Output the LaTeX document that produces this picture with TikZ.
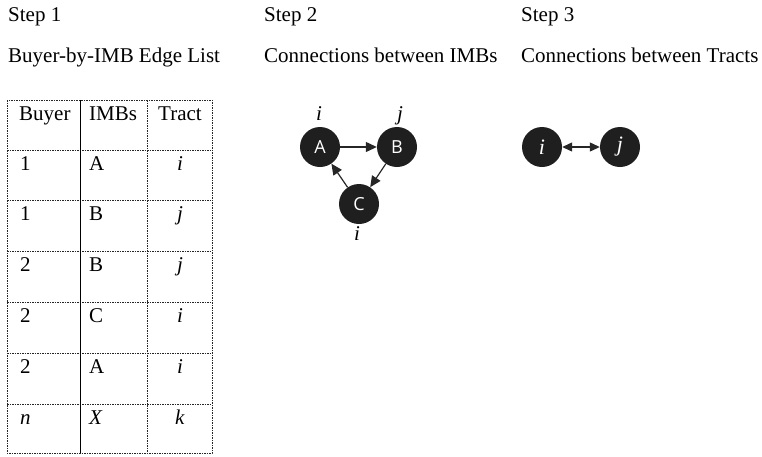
\documentclass[tikz,border=0pt]{standalone}
\usepackage{fontspec}
\setmainfont{Liberation Serif}
\newfontfamily\nodefont{Open Sans}
\usetikzlibrary{arrows.meta}
\tikzset{
  txt/.style={font=\fontsize{21}{25}\selectfont, inner sep=0pt, anchor=base west},
  ctxt/.style={font=\fontsize{21}{25}\selectfont, inner sep=0pt, anchor=base},
  grid/.style={line width=1pt, black!85, dash pattern=on 1.5pt off 1pt},
  solidline/.style={line width=1pt, black},
  imb/.style={circle, fill=black!88, minimum size=40pt, inner sep=0pt, text=white,
              font=\nodefont\fontsize{18}{20}\selectfont},
  tractnode/.style={circle, fill=black!88, minimum size=40pt, inner sep=0pt, text=white,
              font=\fontsize{22}{24}\selectfont\itshape},
  arr/.style={-{Triangle[length=11pt,width=10pt]}, line width=1.2pt, black!85},
  darr/.style={{Triangle[length=10pt,width=9pt]}-{Triangle[length=10pt,width=9pt]}, line width=1.2pt, black!85}
}
\begin{document}
\begin{tikzpicture}[x=1pt,y=-1pt]
\useasboundingbox (0,0) rectangle (762,456);
% headings
\node[txt] (s1) at (8,21) {Step 1};
\node[txt] (s2) at (264,21) {Step 2};
\node[txt] (s3) at (521,21) {Step 3};
\node[txt] (h1) at (8,62) {Buyer-by-IMB Edge List};
\node[txt] (h2) at (264,62) {Connections between IMBs};
\node[txt] (h3) at (521,62) {Connections between Tracts};
% table grid
\draw[grid] (7,100) rectangle (212,453);
\foreach \yy in {150,200,251,302,353,404} \draw[grid] (7,\yy) -- (212,\yy);
\draw[grid] (147,100) -- (147,453);
\draw[solidline] (80,100) -- (80,453);
% table text
\node[txt] (tb) at (19,120) {Buyer};
\node[txt] (ti) at (89,120) {IMBs};
\node[ctxt] (tt) at (180,120) {Tract};
\node[txt] (r1a) at (20,170) {1};
\node[txt] (r1b) at (89,170) {A};
\node[ctxt] (r1c) at (180,170) {\textit{i}};
\node[txt] (r2a) at (20,220) {1};
\node[txt] (r2b) at (89,220) {B};
\node[ctxt] (r2c) at (180,220) {\textit{j}};
\node[txt] (r3a) at (20,271) {2};
\node[txt] (r3b) at (89,271) {B};
\node[ctxt] (r3c) at (180,271) {\textit{j}};
\node[txt] (r4a) at (20,322) {2};
\node[txt] (r4b) at (89,322) {C};
\node[ctxt] (r4c) at (180,322) {\textit{i}};
\node[txt] (r5a) at (20,373) {2};
\node[txt] (r5b) at (89,373) {A};
\node[ctxt] (r5c) at (180,373) {\textit{i}};
\node[txt] (r6a) at (20,424) {\textit{n}};
\node[txt] (r6b) at (89,424) {\textit{X}};
\node[ctxt] (r6c) at (180,424) {\textit{k}};
% step 2 graph
\node[imb] (A) at (320,147) {A};
\node[imb] (B) at (397,147) {B};
\node[imb] (C) at (359,204) {C};
\node[ctxt] (la) at (319,120) {\textit{i}};
\node[ctxt] (lb) at (400,120) {\textit{j}};
\node[ctxt] (lc) at (357,240) {\textit{i}};
\draw[arr] (A) -- (B);
\draw[arr] (B) -- (C);
\draw[arr] (C) -- (A);
% step 3 graph
\node[tractnode] (ti3) at (542,147) {i};
\node[tractnode] (tj3) at (620,147) {j};
\draw[darr] (ti3) -- (tj3);
\end{tikzpicture}
\end{document}
